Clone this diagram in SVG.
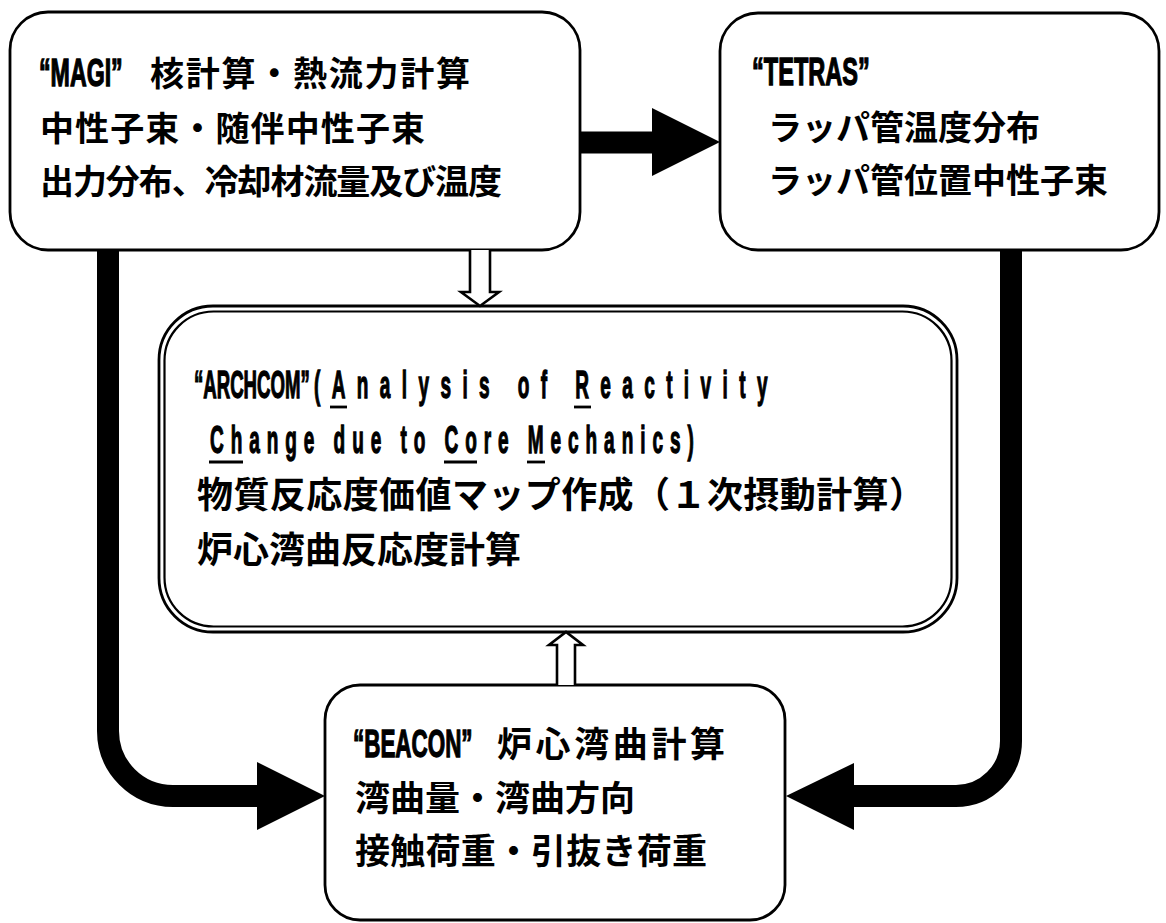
<svg xmlns="http://www.w3.org/2000/svg" width="1166" height="923" viewBox="0 0 1166 923">
<style>
.box{fill:#fff;stroke:#000;stroke-width:2.8}
.box2{fill:none;stroke:#000;stroke-width:2.2}
.thick{fill:none;stroke:#000;stroke-width:22}
.head{fill:#000;stroke:none}
.hollow{fill:#fff;stroke:#000;stroke-width:2.6;stroke-linejoin:miter}
.ul{stroke:#000;stroke-width:2.8}
.jp{font-family:"Noto Sans CJK JP","Noto Sans CJK SC",sans-serif;font-weight:bold;font-size:34px;fill:#000}
.jpb{font-family:"Noto Sans CJK JP","Noto Sans CJK SC",sans-serif;font-weight:bold;font-size:35px;fill:#000}
.jpl{font-family:"Noto Sans CJK JP","Noto Sans CJK SC",sans-serif;font-weight:bold;font-size:36px;fill:#000}
.lat{font-family:"Liberation Sans",Arial,sans-serif;font-weight:bold;font-size:38px;fill:#000;stroke:#000;stroke-width:1.3}
</style>
<rect width="1166" height="923" fill="#fff"/>
<g id="connectors">
  <path class="thick" d="M108,250 V731 A65,65 0 0 0 173,796 H262"/>
  <polygon class="head" points="257,762 325,796 257,830"/>
  <path class="thick" d="M1011,250 V741 A55,55 0 0 1 956,796 H850"/>
  <polygon class="head" points="854,763 786,796 854,830"/>
  <path class="thick" d="M580,142.5 H656"/>
  <polygon class="head" points="652,108 720,142 652,176"/>
</g>
<g id="magi">
  <rect class="box" x="10" y="12" width="570" height="238" rx="38"/>
  <text class="lat" transform="translate(39,86) scale(0.61,1)">“MAGI”</text>
  <text class="jp" x="150" y="86" textLength="320" lengthAdjust="spacing">核計算・熱流力計算</text>
  <text class="jp" x="40" y="141" textLength="385" lengthAdjust="spacing">中性子束・随伴中性子束</text>
  <text class="jp" x="40" y="194" textLength="462" lengthAdjust="spacing">出力分布、冷却材流量及び温度</text>
</g>
<g id="tetras">
  <rect class="box" x="720" y="13" width="439" height="237" rx="38"/>
  <text class="lat" transform="translate(752,85) scale(0.62,1)">“TETRAS”</text>
  <text class="jp" x="768" y="140">ラッパ管温度分布</text>
  <text class="jp" x="768" y="193">ラッパ管位置中性子束</text>
</g>
<g id="archcom">
  <rect class="box" x="159" y="306" width="798" height="326" rx="54"/>
  <rect class="box2" x="164.5" y="311.5" width="787" height="315" rx="49"/>
  <text class="lat" transform="translate(194,398) scale(0.49,1)">“ARCHCOM”</text>
  <text class="lat" transform="translate(314,398) scale(0.5,1)" style="letter-spacing:22.8px">(Analysis of Reactivity</text>
  <text class="lat" transform="translate(210,453) scale(0.5,1)" style="letter-spacing:13.9px">Change due to Core Mechanics)</text>
  <line class="ul" x1="330" y1="407" x2="347" y2="407"/>
  <line class="ul" x1="574" y1="407" x2="591" y2="407"/>
  <line class="ul" x1="209" y1="462" x2="243" y2="462"/>
  <line class="ul" x1="444" y1="462" x2="477" y2="462"/>
  <line class="ul" x1="527" y1="462" x2="545" y2="462"/>
  <text class="jpl" x="197" y="508" textLength="728" lengthAdjust="spacing">物質反応度価値マップ作成（１次摂動計算）</text>
  <text class="jpl" x="197" y="563">炉心湾曲反応度計算</text>
</g>
<g id="beacon">
  <rect class="box" x="325" y="685" width="460" height="235" rx="35"/>
  <text class="lat" transform="translate(353,757) scale(0.59,1)">“BEACON”</text>
  <text class="jpb" x="497" y="757" textLength="228" lengthAdjust="spacing">炉心湾曲計算</text>
  <text class="jpb" x="355" y="811" textLength="280" lengthAdjust="spacing">湾曲量・湾曲方向</text>
  <text class="jpb" x="355" y="864" textLength="352" lengthAdjust="spacing">接触荷重・引抜き荷重</text>
</g>
<g id="hollow-arrows">
  <path class="hollow" d="M470,250 V292 H461 L480,306 L499,292 H490 V250"/>
  <path class="hollow" d="M557,685 V645 H549 L566,632 L583,645 H575 V685"/>
</g>
</svg>
